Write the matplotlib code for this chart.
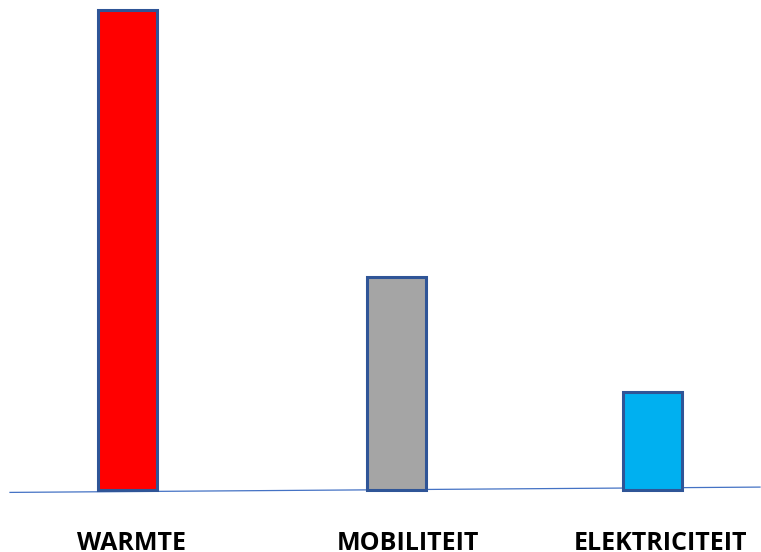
import matplotlib
matplotlib.use("Agg")
from matplotlib import pyplot

# chart data
categories = ['WARMTE', 'MOBILITEIT', 'ELEKTRICITEIT']
values = [99.4, 44.2, 20.3]
bar_colors = ['#FF0000', '#A5A5A5', '#00B0F0']

# layout (pixel-like x units, value units for y)
bar_x = [127, 396, 652.5]
label_x = [131.5, 407.5, 661]
bar_width = 59

figure = pyplot.figure(figsize=(7.61, 5.52), dpi=100)
ax = figure.add_axes([0, 0, 1, 1])
ax.set_xlim(0, 761)
ax.set_ylim(-12.84, 101.45)
ax.axis('off')

# slightly tilted baseline
ax.plot([10, 760], [-0.5, 0.6], color='#4472C4', linewidth=0.9, zorder=1)

ax.bar(bar_x, values, width=bar_width, color=bar_colors,
       edgecolor='#2F5597', linewidth=2.2, zorder=2)

for x, label in zip(label_x, categories):
    ax.text(x, -12.45, label, ha='center', va='baseline',
            fontsize=18, fontweight='bold', family='Open Sans')

figure.savefig('out.png', dpi=100)
